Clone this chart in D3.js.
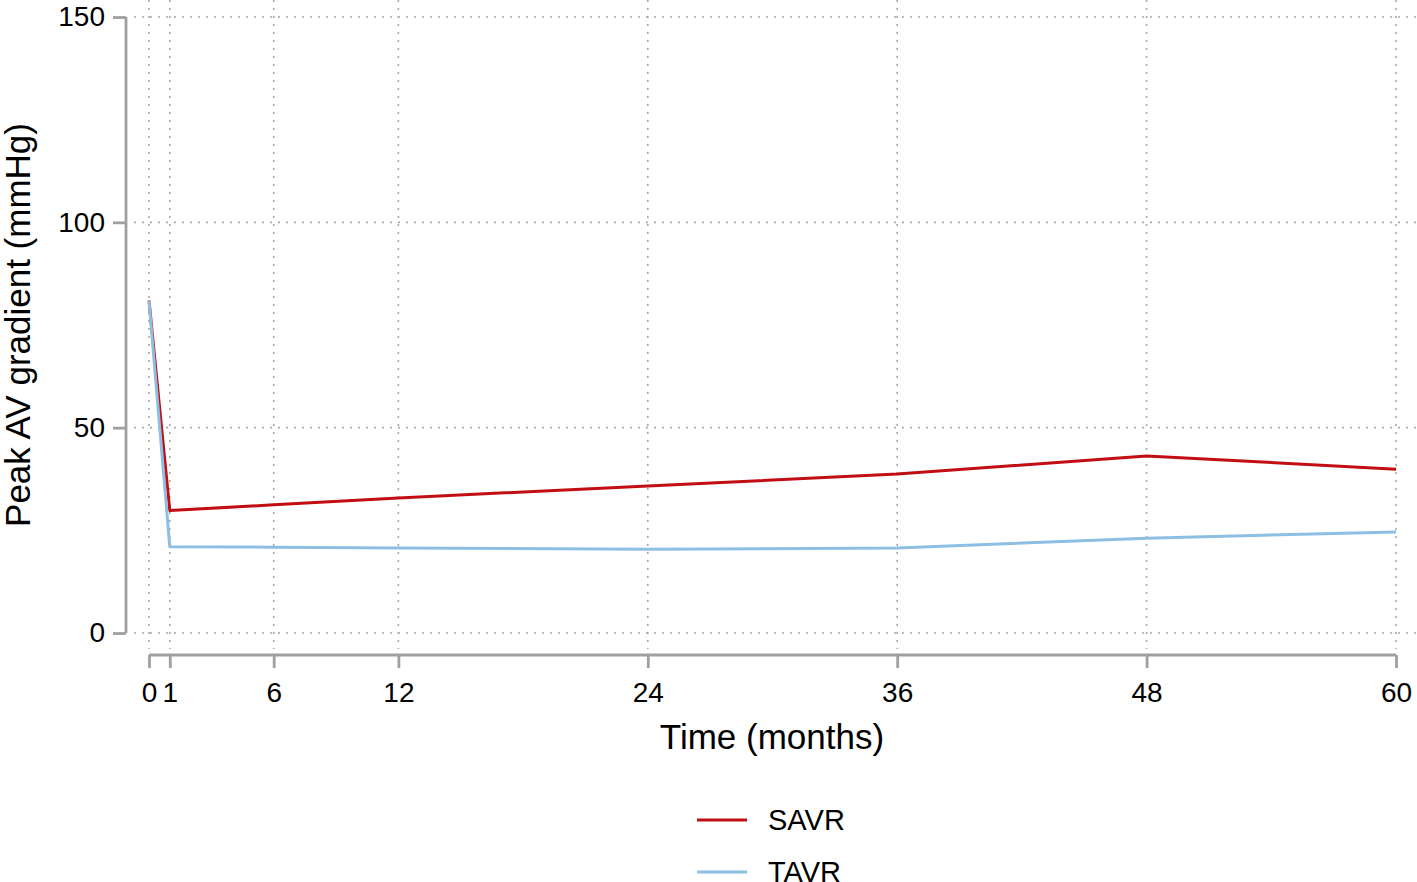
<!doctype html>
<html lang="en">
  <head>
    <meta charset="utf-8" />
    <title>Peak AV gradient</title>
    <script src="https://d3js.org/d3.v7.min.js"></script>
    <style>
      body { margin: 0; background: #fff; }
      svg { display: block; font-family: "Liberation Sans", Arial, sans-serif; }
    </style>
  </head>
  <body>
    <svg id="main" width="1417" height="882"></svg>
    <script>
      // data
      const months = [0, 1, 6, 12, 24, 36, 48, 60];
      const savr = [81, 29.8, 31.2, 32.9, 35.8, 38.7, 43.1, 39.9];
      const tavr = [81, 21.0, 20.9, 20.7, 20.4, 20.7, 23.1, 24.6];
      const xTicks = [0, 1, 6, 12, 24, 36, 48, 60];
      const yTicks = [0, 50, 100, 150];
      const series = [
        { name: 'SAVR', values: savr, color: '#c20e12' },
        { name: 'TAVR', values: tavr, color: '#8cbfe3' }
      ];

      const svg = d3.select('#main');
      const x = d3.scaleLinear().domain([0, 60]).range([149, 1396]);
      const y = d3.scaleLinear().domain([0, 150]).range([633, 17]);
      const axisColor = '#a0a0a0';

      // grid
      const grid = svg.append('g');
      grid.selectAll('line.v').data(xTicks).join('line')
        .attr('x1', d => x(d)).attr('x2', d => x(d))
        .attr('y1', 0).attr('y2', 649)
        .attr('stroke', '#a8a8a8').attr('stroke-width', 1.6).attr('stroke-dasharray', '2,6');
      grid.selectAll('line.h').data(yTicks).join('line')
        .attr('x1', 134).attr('x2', 1417)
        .attr('y1', d => y(d)).attr('y2', d => y(d))
        .attr('stroke', '#a8a8a8').attr('stroke-width', 1.6).attr('stroke-dasharray', '2,6');

      // y axis
      const yAxis = svg.append('g').attr('transform', 'translate(126,0)')
        .call(d3.axisLeft(y).tickValues(yTicks).tickSize(13).tickPadding(8));
      yAxis.select('.domain').attr('d', `M0,${y(150)}V${y(0)}`);
      // x axis
      const xAxis = svg.append('g').attr('transform', 'translate(0,655)')
        .call(d3.axisBottom(x).tickValues(xTicks).tickSize(13).tickPadding(14));
      xAxis.select('.domain').attr('d', `M${x(0)},0H${x(60)}`);

      svg.selectAll('.domain, .tick line')
        .attr('stroke', axisColor).attr('stroke-width', 2.8);
      svg.selectAll('.tick text')
        .attr('fill', '#000').attr('font-size', 28)
        .attr('font-family', '"Liberation Sans", Arial, sans-serif');

      // axis titles
      svg.append('text')
        .attr('transform', `translate(30,${y(75)}) rotate(-90)`)
        .attr('text-anchor', 'middle').attr('font-size', 35)
        .text('Peak AV gradient (mmHg)');
      svg.append('text')
        .attr('x', 772).attr('y', 749)
        .attr('text-anchor', 'middle').attr('font-size', 35)
        .text('Time (months)');

      // lines
      const line = d3.line().x((d, i) => x(months[i])).y(d => y(d));
      svg.append('g').selectAll('path').data(series).join('path')
        .attr('d', d => line(d.values))
        .attr('fill', 'none').attr('stroke', d => d.color)
        .attr('stroke-width', 3).attr('stroke-linejoin', 'round');

      // legend
      const legend = svg.append('g').selectAll('g').data(series).join('g')
        .attr('transform', (d, i) => `translate(697,${820 + i * 52})`);
      legend.append('line').attr('x1', 0).attr('x2', 50)
        .attr('stroke', d => d.color).attr('stroke-width', 3);
      legend.append('text').attr('x', 71).attr('y', 10)
        .attr('font-size', 29).text(d => d.name);
    </script>
  </body>
</html>
